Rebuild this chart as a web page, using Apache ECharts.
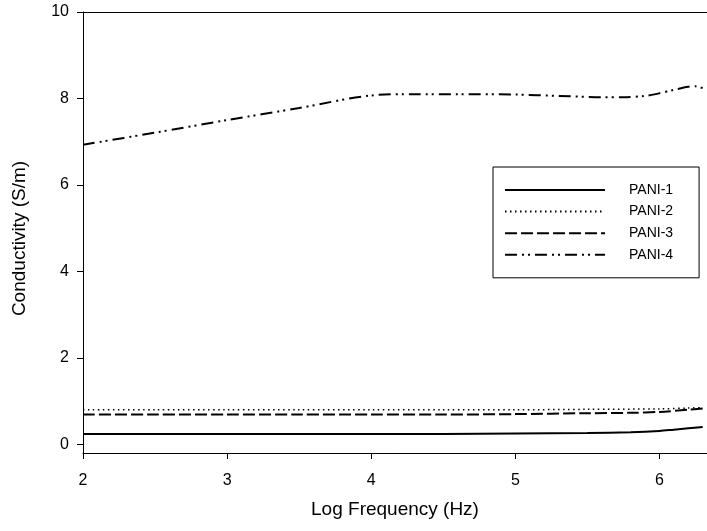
<!DOCTYPE html>
<html>
<head>
<meta charset="utf-8">
<script src="https://cdn.jsdelivr.net/npm/echarts@6/dist/echarts.min.js"></script>
<style>html,body{margin:0;padding:0;background:#fff}#c{width:707px;height:531px}</style>
</head>
<body>
<div id="c"></div>
<script>
var xTicks = [2, 3, 4, 5, 6];
var yTicks = [0, 2, 4, 6, 8, 10];

var pani1X = [2, 2.5, 3, 3.5, 4, 4.5, 5, 5.5, 5.8, 6.0, 6.1, 6.2, 6.3];
var pani1Y = [0.24, 0.24, 0.24, 0.24, 0.24, 0.24, 0.25, 0.26, 0.28, 0.31, 0.34, 0.37, 0.40];

var pani2X = [2, 2.5, 3, 3.5, 4, 4.5, 5, 5.5, 6.0, 6.2, 6.3];
var pani2Y = [0.80, 0.80, 0.80, 0.80, 0.80, 0.80, 0.80, 0.81, 0.82, 0.84, 0.85];

var pani3X = [2, 2.5, 3, 3.5, 4, 4.5, 5, 5.5, 5.8, 6.0, 6.2, 6.3];
var pani3Y = [0.69, 0.69, 0.69, 0.69, 0.69, 0.69, 0.70, 0.72, 0.73, 0.75, 0.80, 0.83];

var pani4X = [2, 2.5, 3, 3.5, 4, 4.3, 4.6, 5, 5.3, 5.6, 5.75, 5.9, 6.0, 6.1, 6.2, 6.25, 6.3];
var pani4Y = [6.93, 7.21, 7.50, 7.78, 8.07, 8.10, 8.10, 8.09, 8.06, 8.03, 8.03, 8.06, 8.12, 8.20, 8.27, 8.28, 8.24];

function pairs(xs, ys) { return xs.map(function (x, i) { return [x, ys[i]]; }); }

var chart = echarts.init(document.getElementById('c'));
var font = 'Liberation Sans, Arial, sans-serif';
function mk(name, xs, ys, type, w) {
  return {
    name: name, type: 'line', data: pairs(xs, ys), symbol: 'none', smooth: 0.3,
    lineStyle: { color: '#000', width: w, type: type }, itemStyle: { color: '#000' }
  };
}
chart.setOption({
  animation: false,
  backgroundColor: '#fff',
  grid: { left: 83, right: 0, top: 12, bottom: 78 },
  legend: {
    orient: 'vertical', left: 493, top: 167,
    itemWidth: 100, itemHeight: 14, itemGap: 7.6,
    padding: [16, 26, 16, 11],
    borderColor: '#000', borderWidth: 1,
    itemStyle: { opacity: 0 },
    textStyle: { fontFamily: font, fontSize: 14, color: '#000', padding: [0, 0, 0, 19] },
    data: ['PANI-1', 'PANI-2', 'PANI-3', 'PANI-4']
  },
  xAxis: [{
    type: 'value', min: 2, max: 6.33, interval: 1,
    name: 'Log Frequency (Hz)', nameLocation: 'middle', nameGap: 47,
    nameTextStyle: { fontFamily: font, fontSize: 19, color: '#000' },
    axisLine: { show: true, onZero: false, lineStyle: { color: '#000', width: 1 } },
    axisTick: { show: true, inside: false, length: 6, customValues: xTicks, lineStyle: { color: '#000' } },
    axisLabel: { customValues: xTicks, fontFamily: font, fontSize: 16, color: '#000', margin: 20 },
    splitLine: { show: false }
  }, {
    type: 'value', position: 'top', min: 2, max: 6.33,
    axisLine: { show: true, onZero: false, lineStyle: { color: '#000', width: 1 } },
    axisTick: { show: false }, axisLabel: { show: false }, splitLine: { show: false }
  }],
  yAxis: {
    type: 'value', min: -0.2, max: 10,
    name: 'Conductivity (S/m)', nameLocation: 'middle', nameGap: 54,
    nameTextStyle: { fontFamily: font, fontSize: 19, color: '#000', padding: [0, 12, 0, 0] },
    axisLine: { show: true, onZero: false, lineStyle: { color: '#000', width: 1 } },
    axisTick: { show: true, inside: false, length: 6, customValues: yTicks, lineStyle: { color: '#000' } },
    axisLabel: { customValues: yTicks, fontFamily: font, fontSize: 16, color: '#000', margin: 14 },
    splitLine: { show: false }
  },
  series: [
    mk('PANI-1', pani1X, pani1Y, 'solid', 2),
    mk('PANI-2', pani2X, pani2Y, [1.5, 3.5], 1.5),
    mk('PANI-3', pani3X, pani3Y, [12, 4], 2),
    mk('PANI-4', pani4X, pani4Y, [12, 5, 2, 4, 2, 5], 2)
  ]
});
</script>
</body>
</html>
